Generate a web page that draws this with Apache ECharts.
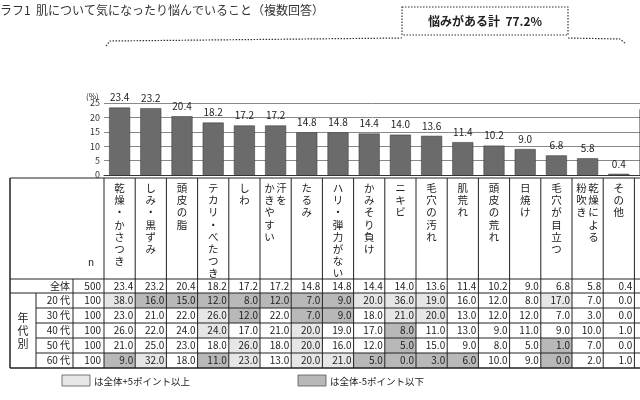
<!DOCTYPE html>
<html><head><meta charset="utf-8">
<script src="https://cdn.jsdelivr.net/npm/echarts@6/dist/echarts.min.js"></script>
<style>html,body{margin:0;padding:0;background:#fff}#c{width:640px;height:400px}</style>
</head><body><div id="c"></div>
<script>
const categories = [['乾燥・かさつき'],['しみ・黒ずみ'],['頭皮の脂'],['テカリ・べたつき'],['しわ'],['汗を','かきやすい'],['たるみ'],['ハリ・弾力がない'],['かみそり負け'],['ニキビ'],['毛穴の汚れ'],['肌荒れ'],['頭皮の荒れ'],['日焼け'],['毛穴が目立つ'],['乾燥による','粉吹き'],['その他'],['特にない']];
const totalValues = [23.4,23.2,20.4,18.2,17.2,17.2,14.8,14.8,14.4,14.0,13.6,11.4,10.2,9.0,6.8,5.8,0.4,22.8];
const rowLabels = ['20 代','30 代','40 代','50 代','60 代'];
const rowN = [100,100,100,100,100];
const totalN = 500;
const age20 = [38,16,15,12,8,12,7,9,20,36,19,16,12,8,17,7,0];
const age30 = [23,21,22,26,12,22,7,9,18,21,20,13,12,12,7,3,0];
const age40 = [26,22,24,24,17,21,20,19,17,8,11,13,9,11,9,10,1];
const age50 = [21,25,23,18,26,18,20,16,12,5,15,9,8,5,1,7,0];
const age60 = [9,32,18,11,23,13,20,21,5,0,3,6,10,9,0,2,1];
const yTicks = [0,5,10,15,20,25];

const FONT = '"Noto Sans CJK JP", sans-serif';
const chart = echarts.init(document.getElementById('c'));
const colW = 31.2, x0 = 104;
chart.setOption({
  animation:false,
  grid:{left:x0, top:103, width:colW*categories.length, height:72, outerBoundsMode:'none', containLabel:false},
  xAxis:{type:'category', data:categories.map(c=>c.join('')), axisLabel:{show:false}, axisTick:{show:false}, axisLine:{lineStyle:{color:'#333'}}},
  yAxis:{type:'value', min:yTicks[0], max:yTicks[yTicks.length-1], interval:5,
    axisLabel:{fontSize:9, color:'#333', margin:4, fontFamily:FONT},
    splitLine:{lineStyle:{color:'#888', width:1}}, axisLine:{show:false}, axisTick:{show:false}},
  series:[{type:'bar', data:totalValues, barWidth:21, itemStyle:{color:'#6b6b6b', borderColor:'#333', borderWidth:0.5},
    label:{show:true, position:'top', fontSize:10, color:'#222', fontFamily:FONT, formatter:p=>p.value.toFixed(1)}}]
});

const g = [];
const line = (x1,y1,x2,y2,w,dash)=>g.push({type:'line', shape:{x1,y1,x2,y2}, style:{stroke:'#222', lineWidth:w||1, lineDash:dash||null}, silent:true});
const txt = (x,y,t,o)=>g.push({type:'text', x, y, style:Object.assign({text:t, fontSize:10, fill:'#222', fontFamily:FONT}, o||{}), silent:true});
const rect=(x,y,w,h,fill)=>g.push({type:'rect', shape:{x,y,width:w,height:h}, style:{fill, stroke:null}, silent:true});

txt(0,4,'ラフ1  肌について気になったり悩んでいること（複数回答）',{fontSize:12, fill:'#333'});
g.push({type:'rect', shape:{x:402,y:7,width:166,height:28}, style:{fill:'#fff', stroke:'#333', lineWidth:1.2, lineDash:[1.5,1.5]}});
txt(485,21,'悩みがある計  77.2%',{fontSize:12, fontWeight:'bold', align:'center', verticalAlign:'middle'});
g.push({type:'polyline', shape:{points:[[106,46],[110,41],[402,38]]}, style:{stroke:'#333', lineWidth:1.2, lineDash:[1.5,1.5], fill:null}});
g.push({type:'polyline', shape:{points:[[568,38],[620,39],[626,44]]}, style:{stroke:'#333', lineWidth:1.2, lineDash:[1.5,1.5], fill:null}});
txt(86,92,'(%)',{fontSize:8});

const rows = [age20,age30,age40,age50,age60];
const yHead=178, yTot=279, rowH=[14,15,15,15,15,15];
const yLines=[yTot]; rowH.forEach(h=>yLines.push(yLines[yLines.length-1]+h));
const xEnd = x0+colW*categories.length;
rows.forEach((r,ri)=>r.forEach((v,ci)=>{
  const d=v-totalValues[ci];
  if(d>=5) rect(x0+ci*colW,yLines[ri+1],colW,rowH[ri+1],'#e6e6e6');
  else if(d<=-5) rect(x0+ci*colW,yLines[ri+1],colW,rowH[ri+1],'#b8b8b8');
}));
line(10,yHead,xEnd,yHead,1.2);
yLines.forEach((y,i)=>line(i<=1||i===yLines.length-1?10:36,y,xEnd,y,i===yLines.length-1?1.5:1));
line(10,yHead,10,yLines[yLines.length-1],1.5);
line(36,yLines[1],36,yLines[yLines.length-1]);
line(73,yTot,73,yLines[yLines.length-1]);
for(let i=0;i<=categories.length;i++) line(x0+i*colW, yHead, x0+i*colW, yLines[yLines.length-1]);
txt(91,262,'n',{fontSize:10, align:'center', verticalAlign:'middle'});
categories.forEach((c,ci)=>{
  const cx=x0+ci*colW+colW/2;
  c.forEach((s,k)=>{
    const off = c.length===1?0:(k===0?6:-6);
    txt(cx+off,182,s.split('').join('\n'),{fontSize:10.5, align:'center', verticalAlign:'top', lineHeight:12.2});
  });
});
const midY=i=>(yLines[i]+yLines[i+1])/2;
txt(70,midY(0),'全体',{align:'right', verticalAlign:'middle'});
txt(101,midY(0),String(totalN),{align:'right', verticalAlign:'middle'});
totalValues.slice(0,17).forEach((v,ci)=>txt(x0+(ci+1)*colW-2,midY(0),v.toFixed(1),{align:'right', verticalAlign:'middle'}));
txt(23,(yLines[1]+yLines[6])/2,'年\n代\n別',{align:'center', verticalAlign:'middle', lineHeight:13, fontSize:11});
rows.forEach((r,ri)=>{
  txt(70,midY(ri+1),rowLabels[ri],{align:'right', verticalAlign:'middle'});
  txt(101,midY(ri+1),String(rowN[ri]),{align:'right', verticalAlign:'middle'});
  r.forEach((v,ci)=>txt(x0+(ci+1)*colW-2,midY(ri+1),v.toFixed(1),{align:'right', verticalAlign:'middle'}));
});
g.push({type:'rect', shape:{x:62,y:375,width:28,height:11}, style:{fill:'#e6e6e6', stroke:'#555', lineWidth:0.8}});
txt(94,381,'は全体+5ポイント以上',{fontSize:9.5, verticalAlign:'middle'});
g.push({type:'rect', shape:{x:298,y:375,width:28,height:11}, style:{fill:'#b8b8b8', stroke:'#555', lineWidth:0.8}});
txt(330,381,'は全体-5ポイント以下',{fontSize:9.5, verticalAlign:'middle'});
chart.setOption({graphic:g});
</script></body></html>
